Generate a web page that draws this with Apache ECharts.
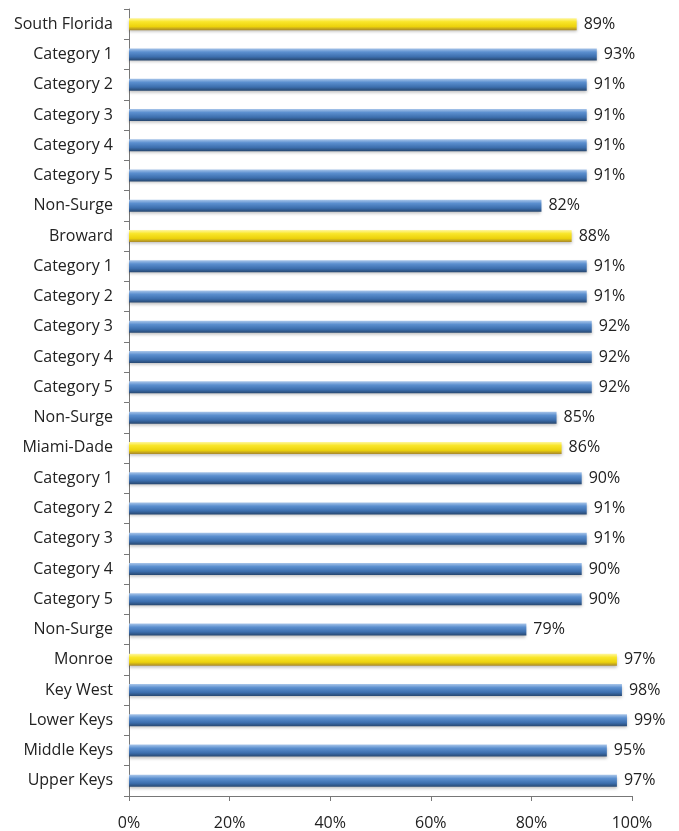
<!DOCTYPE html>
<html>
<head>
<meta charset="utf-8">
<script src="https://cdn.jsdelivr.net/npm/echarts@6/dist/echarts.min.js"></script>
<style>
  html, body { margin: 0; padding: 0; background: #fff; }
  #chart { width: 679px; height: 831px; }
</style>
</head>
<body>
<div id="chart"></div>
<script>
// rows, top to bottom
const rowNames = ['South Florida', 'Category 1', 'Category 2', 'Category 3', 'Category 4', 'Category 5', 'Non-Surge',
  'Broward', 'Category 1', 'Category 2', 'Category 3', 'Category 4', 'Category 5', 'Non-Surge',
  'Miami-Dade', 'Category 1', 'Category 2', 'Category 3', 'Category 4', 'Category 5', 'Non-Surge',
  'Monroe', 'Key West', 'Lower Keys', 'Middle Keys', 'Upper Keys']
const rowValues = [89, 93, 91, 91, 91, 91, 82,
  88, 91, 91, 92, 92, 92, 85,
  86, 90, 91, 91, 90, 90, 79,
  97, 98, 99, 95, 97]
// rows that are county totals (drawn yellow)
const totalRows = [0, 7, 14, 21]
const xTicks = [0, 20, 40, 60, 80, 100]

const blueBar = new echarts.graphic.LinearGradient(0, 0, 0, 1, [
  { offset: 0, color: '#a9c6ea' },
  { offset: 0.3, color: '#5b8fcf' },
  { offset: 0.7, color: '#3c6ead' },
  { offset: 1, color: '#27476f' }
])
const yellowBar = new echarts.graphic.LinearGradient(0, 0, 0, 1, [
  { offset: 0, color: '#fff7a0' },
  { offset: 0.3, color: '#f9e62a' },
  { offset: 0.7, color: '#ecd20c' },
  { offset: 1, color: '#a8882a' }
])

const chart = echarts.init(document.getElementById('chart'))
chart.setOption({
  animation: false,
  grid: {
    left: 129,
    right: 47,
    top: 9,
    bottom: 35
  },
  xAxis: {
    type: 'value',
    min: xTicks[0],
    max: xTicks[xTicks.length - 1],
    interval: 20,
    splitLine: { show: false },
    axisLine: { show: true, lineStyle: { color: '#777' } },
    axisTick: { show: true, length: 5, lineStyle: { color: '#777' } },
    axisLabel: {
      margin: 19,
      color: '#222',
      fontSize: 16,
      fontFamily: 'Open Sans',
      formatter: v => v + '%'
    }
  },
  yAxis: {
    type: 'category',
    inverse: true,
    data: rowNames,
    axisLine: { show: true, lineStyle: { color: '#777' } },
    axisTick: { show: true, length: 5, lineStyle: { color: '#777' } },
    axisLabel: {
      margin: 16,
      color: '#222',
      fontSize: 16,
      fontFamily: 'Open Sans'
    }
  },
  series: [{
    type: 'bar',
    data: rowValues,
    barWidth: 12,
    itemStyle: {
      color: p => totalRows.includes(p.dataIndex) ? yellowBar : blueBar,
      shadowColor: 'rgba(0,0,0,0.25)',
      shadowBlur: 3,
      shadowOffsetY: 2
    },
    label: {
      show: true,
      position: 'right',
      distance: 7,
      color: '#222',
      fontSize: 16,
      fontFamily: 'Open Sans',
      formatter: p => p.value + '%'
    }
  }]
})
</script>
</body>
</html>
